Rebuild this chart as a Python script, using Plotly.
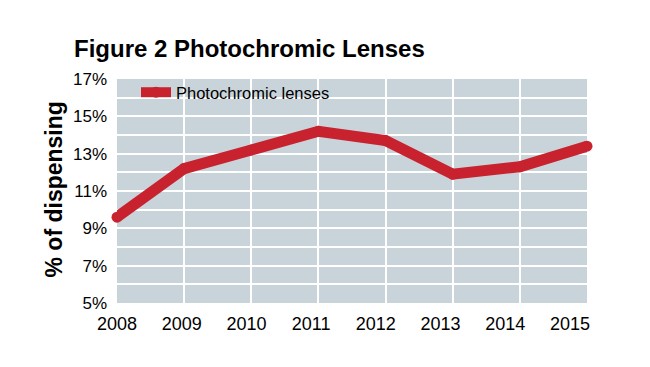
import plotly.graph_objects as go

years = [2008, 2009, 2010, 2011, 2012, 2013, 2014, 2015]
photochromic = [9.6, 12.2, 13.2, 14.2, 13.7, 11.9, 12.3, 13.4]
y_ticks = [5, 7, 9, 11, 13, 15, 17]
y_labels = [f"{v}%" for v in y_ticks]
x_labels = [str(y) for y in years]

RED = "#C8222E"
BG = "#C9D3DA"
FONT = "Liberation Sans, Arial, sans-serif"

fig = go.Figure()
fig.add_trace(go.Scatter(
    x=years, y=photochromic, mode="lines+markers", name="Photochromic lenses",
    line=dict(color=RED, width=11), marker=dict(color=RED, size=11),
    cliponaxis=False,
))
# invisible trace on a label axis (the printed year labels sit slightly left of the grid)
fig.add_trace(go.Scatter(x=years, y=photochromic, xaxis="x2", mode="lines",
                         line=dict(width=0), hoverinfo="skip", showlegend=False,
                         opacity=0))

fig.update_layout(
    width=650, height=367,
    margin=dict(l=117, r=63, t=79, b=64),
    paper_bgcolor="white", plot_bgcolor=BG,
    font=dict(family=FONT, color="black", size=17),
    title=dict(text="<b>Figure 2 Photochromic Lenses</b>", xref="container", x=74/650,
               xanchor="left", yref="container", y=1 - 49/367, yanchor="middle",
               font=dict(family=FONT, size=24, color="black")),
    showlegend=True,
    legend=dict(x=(136 - 117) / 470, y=1 + 4 / 224, xanchor="left", yanchor="top",
                bgcolor="rgba(0,0,0,0)", font=dict(size=16.5), itemwidth=30,
                tracegroupgap=0, borderwidth=0),
    xaxis=dict(range=[2008, 2015], tickmode="array", tickvals=years,
               showticklabels=False, showgrid=True, gridcolor="white",
               gridwidth=2, zeroline=False, showline=False, ticks=""),
    xaxis2=dict(range=[2008, 2008 + 470 / 64.7], overlaying="x", side="bottom",
                tickmode="array", tickvals=years, ticktext=x_labels, showgrid=False,
                zeroline=False, showline=False, ticks="", ticklabelstandoff=8,
                tickfont=dict(size=18)),
    yaxis=dict(range=[5, 17], tickmode="array", tickvals=y_ticks, ticktext=y_labels,
               showgrid=True, gridcolor="white", gridwidth=2, zeroline=False,
               showline=False, ticks="", tickfont=dict(size=17), ticklabelstandoff=9,
               minor=dict(dtick=1, tick0=5, showgrid=True, gridcolor="white", gridwidth=2)),
    annotations=[dict(text="<b>% of dispensing</b>", xref="paper", yref="paper",
                      x=(53.5 - 117) / 470, y=(303 - 190) / 224, textangle=-90,
                      showarrow=False, xanchor="center", yanchor="middle",
                      font=dict(family=FONT, size=23, color="black"))],
)

fig.write_html("out.html")
